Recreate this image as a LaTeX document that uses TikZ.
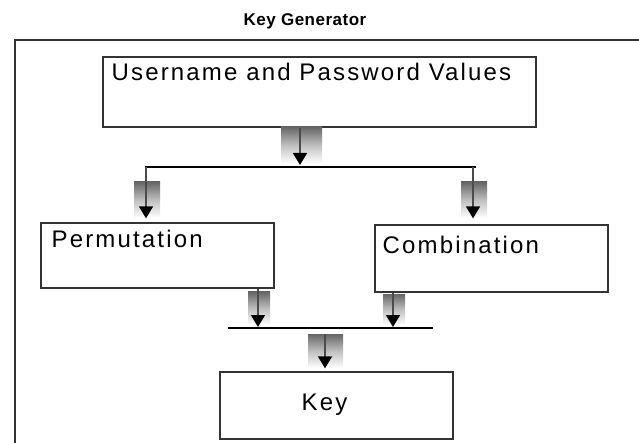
\documentclass[tikz,border=0pt]{standalone}
\usepackage{fontspec}
\setmainfont{Liberation Sans}
\usetikzlibrary{arrows.meta, positioning}

\begin{document}
\begin{tikzpicture}[x=1pt, y=-1pt, line width=1.3pt,
  box/.style={draw=black!80, rectangle, inner sep=0pt},
  flow/.style={draw=black!70, line width=1.5pt, -{Triangle[width=14pt,length=12pt,color=black]}},
  fadebar/.style={top color=black!60, bottom color=white, middle color=black!25, draw=none},
  txt/.style={font=\fontsize{24}{28}\selectfont\addfontfeature{LetterSpace=9}, anchor=base west, inner sep=0pt}]

  \useasboundingbox (0,0) rectangle (639,443);

  % --- title and outer frame ---
  \node[font=\bfseries\fontsize{17}{20}\selectfont\addfontfeature{LetterSpace=3}, anchor=base] (title) at (305,26) {Key Generator};
  \draw[draw=black!80] (639,40) -- (15,40) -- (15,443);

  % --- boxes ---
  \node[box, minimum width=433pt, minimum height=70pt] (creds) at (319.5,92) {};
  \node[box, minimum width=233pt, minimum height=65pt] (perm) at (157.5,255.5) {};
  \node[box, minimum width=233pt, minimum height=67pt] (comb) at (491.5,258.5) {};
  \node[box, minimum width=233pt, minimum height=67pt] (key) at (336.5,405.5) {};

  \node[txt] (credstxt) at (111,81) {Username and Password Values};
  \node[txt] (permtxt) at (51,248) {Permutation};
  \node[txt] (combtxt) at (382,254) {Combination};
  \node[txt] (keytxt) at (301,410) {Key};

  % --- split below the credentials ---
  \coordinate (sp) at (300,167);
  \coordinate (spL) at (145,167);
  \coordinate (spR) at (476,167);
  \draw (spL) -- (spR);
  \shade[fadebar] (281,127) rectangle (322,163);
  \draw[flow] (sp |- creds.south) -- ([yshift=2pt]sp);

  \shade[fadebar] (134,182) rectangle (160,218);
  \shade[fadebar] (461,182) rectangle (487,218);
  \draw[flow, shorten >=4pt] ([xshift=1pt]spL) -- ([xshift=1pt]spL |- perm.north);
  \draw[flow, shorten >=6pt] ([xshift=-3pt]spR) -- ([xshift=-3pt]spR |- comb.north);

  % --- join above the key ---
  \coordinate (jL) at (228,328);
  \coordinate (jR) at (433,328);
  \coordinate (j1) at (258,328);
  \coordinate (j2) at (393,328);
  \coordinate (jm) at (325,328);
  \draw (jL) -- (jR);
  \shade[fadebar] (248,292) rectangle (270,325);
  \shade[fadebar] (383,294) rectangle (405,325);
  \draw[flow, shorten >=1pt] (j1 |- perm.south) -- (j1);
  \draw[flow, shorten >=1pt] (j2 |- comb.south) -- (j2);

  \shade[fadebar] (308,334) rectangle (343,368);
  \draw[flow, shorten >=3pt] ([yshift=-6pt]jm) -- (jm |- key.north);
\end{tikzpicture}
\end{document}
